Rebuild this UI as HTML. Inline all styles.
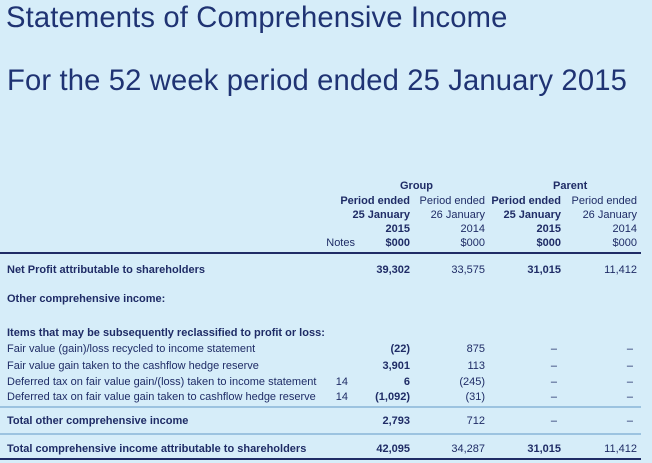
<!DOCTYPE html>
<html><head><meta charset="utf-8"><style>
body{margin:0;width:652px;height:463px;background:#d6edf9;overflow:hidden;font-family:"Liberation Sans",sans-serif;color:#1f2c66;position:relative}
.t{position:absolute;white-space:nowrap;font-size:11px;letter-spacing:0px;line-height:13px}
.h{position:absolute;white-space:nowrap;font-size:29.2px;line-height:34px;color:#1f3373;letter-spacing:0.15px}
.b{font-weight:bold}
.line{position:absolute;left:0;width:641px}
</style></head><body>
<div class="h" style="left:6px;top:1px">Statements of Comprehensive Income</div>
<div class="h" style="left:7px;top:64px">For the 52 week period ended 25 January 2015</div>
<div id="tbl"></div>
<div class="line" style="top:252px;height:2px;background:#1f2c66"></div>
<div class="line" style="top:406px;height:2px;background:#9cc3e0"></div>
<div class="line" style="top:433px;height:2px;background:#9cc3e0"></div>
<div class="line" style="top:458px;height:2px;background:#1f2c66"></div>
<script>
const colRight=[355,410,485,561,637];
function add(txt,x,y,bold,right,name){
 const d=document.createElement('div');
 
 
 d.className='t'+(bold?' b':'');
 d.textContent=txt;
 d.style.top=y+'px';
 if(right){d.style.right=(652-x)+'px';}else{d.style.left=x+'px';}
 document.getElementById('tbl').appendChild(d);
}
add("Group",400,180,true,false,"group-header");
add("Parent",553,180,true,false,"parent-header");
const hdr=[["Period ended","25 January","2015","$000"],["Period ended","26 January","2014","$000"]];
[0,1,2,3].forEach(i=>{
 const bold=(i%2===0);
 const h=hdr[i%2];
 h.forEach((s,k)=>add(s,colRight[i+1],195+k*14,bold,true,"column-header"));
});
add("Notes",colRight[0],237,false,true,"notes-header");
const data=[
 [264,"Net Profit attributable to shareholders","",["39,302","33,575","31,015","11,412"],true],
 [293,"Other comprehensive income:","",null,true],
 [327,"Items that may be subsequently reclassified to profit or loss:","",null,true],
 [343,"Fair value (gain)/loss recycled to income statement","",["(22)","875","–","–"],false],
 [360,"Fair value gain taken to the cashflow hedge reserve","",["3,901","113","–","–"],false],
 [376,"Deferred tax on fair value gain/(loss) taken to income statement","14",["6","(245)","–","–"],false],
 [391,"Deferred tax on fair value gain taken to cashflow hedge reserve","14",["(1,092)","(31)","–","–"],false],
 [415,"Total other comprehensive income","",["2,793","712","–","–"],true],
 [443,"Total comprehensive income attributable to shareholders","",["42,095","34,287","31,015","11,412"],true]
];
data.forEach(r=>{
 add(r[1],7,r[0],r[4],false,"row-label");
 if(r[2])add(r[2],348,r[0],false,true,"note-ref");
 if(r[3])r[3].forEach((v,i)=>{
  const bold=(i%2===0)&&v!=="–";
  const rr=(v==="–")?colRight[i+1]-4:colRight[i+1];
  add(v,rr,r[0],bold,true,"value-cell");
 });
});
</script>
</body></html>
